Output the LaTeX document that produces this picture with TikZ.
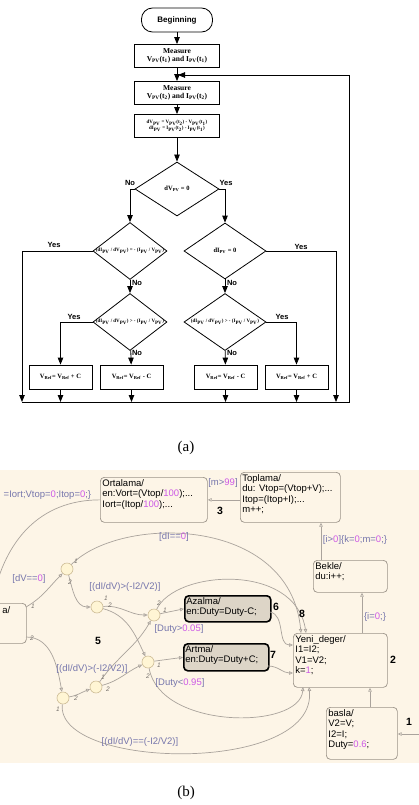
\documentclass[tikz,border=0pt]{standalone}
\usepackage{fontspec}
\setmainfont{Liberation Serif}
\setsansfont{Liberation Sans}
\usepackage{xcolor}
\usepackage{tikz}
\usetikzlibrary{positioning,arrows.meta,shapes.geometric}
\definecolor{panel}{RGB}{253,245,231}
\definecolor{stline}{RGB}{155,147,137}
\definecolor{trline}{RGB}{170,163,156}
\definecolor{lblblue}{RGB}{118,118,172}
\definecolor{numpink}{RGB}{205,90,230}
\definecolor{jfill}{RGB}{255,245,212}
\definecolor{jline}{RGB}{205,188,150}
\definecolor{actfill}{RGB}{221,213,199}
\newcommand{\nm}[1]{\textcolor{numpink}{#1}}
\newcommand{\lowtx}[1]{\textsubscript{#1}}

\begin{document}
\begin{tikzpicture}
		[x=1pt,y=-1pt,line width=0.8pt,
		>={Triangle[length=7pt,width=5.5pt]},
		term/.style={draw,rounded corners=11pt,minimum width=71pt,minimum height=24pt,font=\sffamily\bfseries\fontsize{8}{9}\selectfont},
		proc/.style={draw,minimum width=85pt,minimum height=23pt,inner sep=1pt,align=center,font=\bfseries\fontsize{7.5}{8.5}\selectfont},
		dec/.style={draw,diamond,inner sep=0pt,font=\bfseries\fontsize{5}{6}\selectfont},
		refbox/.style={draw,minimum width=63pt,minimum height=24pt,font=\bfseries\fontsize{6.5}{7.5}\selectfont},
		yn/.style={font=\sffamily\bfseries\fontsize{7.5}{8}\selectfont},
		state/.style={draw=stline,rounded corners=4pt,line width=0.7pt,anchor=north west,inner sep=0pt},
		act/.style={state,draw=black,line width=1.6pt,fill=actfill},
		sttext/.style={anchor=north west,align=left,inner sep=2pt,font=\sffamily\fontsize{9.5}{10.5}\selectfont},
		junc/.style={circle,draw=jline,fill=jfill,line width=0.6pt,minimum size=12pt,inner sep=0pt},
		tr/.style={draw=trline,line width=0.7pt,-{Triangle[open,length=4pt,width=3.5pt]}},
		cond/.style={font=\sffamily\fontsize{9.5}{10}\selectfont,text=lblblue},
		jlab/.style={font=\sffamily\itshape\fontsize{6.5}{6.5}\selectfont,text=trline!70!black},
		num/.style={font=\sffamily\bfseries\fontsize{10.5}{11}\selectfont}]
	\useasboundingbox (0,0) rectangle (419,805);
	\node[term] (beg) at (177,20) {Beginning};
	\node[proc] (m1) at (177,56) {Measure\\V\lowtx{PV}(t\lowtx{1}) and I\lowtx{PV}(t\lowtx{1})};
	\node[proc] (m2) at (177,93) {Measure\\V\lowtx{PV}(t\lowtx{2}) and I\lowtx{PV}(t\lowtx{2})};
	\node[proc,font=\bfseries\fontsize{5}{6}\selectfont] (dif) at (177,126) {dV\lowtx{PV} = V\lowtx{PV}(t\lowtx{2}) - V\lowtx{PV}(t\lowtx{1})\\dI\lowtx{PV} = I\lowtx{PV}(t\lowtx{2}) - I\lowtx{PV}(t\lowtx{1})};
	\node[dec,minimum width=84pt,minimum height=54pt,font=\bfseries\fontsize{6.5}{7}\selectfont] (d1) at (177,189) {\makebox[0pt]{dV\lowtx{PV} = 0}};
	\node[dec,minimum width=74pt,minimum height=57pt] (d2) at (130,251) {\makebox[0pt]{(dI\lowtx{PV} / dV\lowtx{PV}) = - (I\lowtx{PV} / V\lowtx{PV})}};
	\node[dec,minimum width=74pt,minimum height=57pt] (d3) at (130,322) {\makebox[0pt]{(dI\lowtx{PV} / dV\lowtx{PV}) > - (I\lowtx{PV} / V\lowtx{PV})}};
	\node[dec,minimum width=82pt,minimum height=56pt,font=\bfseries\fontsize{6.5}{7}\selectfont] (d4) at (225,251) {\makebox[0pt]{dI\lowtx{PV} = 0}};
	\node[dec,minimum width=82pt,minimum height=57pt] (d5) at (225,322) {\makebox[0pt]{(dI\lowtx{PV} / dV\lowtx{PV}) > - (I\lowtx{PV} / V\lowtx{PV})}};
	\node[refbox] (b1) at (60.5,377) {V\lowtx{Ref}= V\lowtx{Ref} + C};
	\node[refbox] (b2) at (131.5,377) {V\lowtx{Ref}= V\lowtx{Ref} - C};
	\node[refbox] (b3) at (225.5,377) {V\lowtx{Ref}= V\lowtx{Ref} - C};
	\node[refbox] (b4) at (296.5,377) {V\lowtx{Ref}= V\lowtx{Ref} + C};
	\coordinate (lb) at (22,402);
	\coordinate (rb) at (336,402);
	\coordinate (fr) at (349,402);
	\coordinate (fb) at (178,75);
	\node[yn] (noA) at (130,183) {No};
	\node[yn] (yesA) at (226,183) {Yes};
	\node[yn] (yesB) at (54,245) {Yes};
	\node[yn] (noB) at (137,283) {No};
	\node[yn] (yesC) at (74,317) {Yes};
	\node[yn] (noC) at (137,353) {No};
	\node[yn] (yesD) at (301,247) {Yes};
	\node[yn] (noD) at (232,283) {No};
	\node[yn] (yesE) at (282,317) {Yes};
	\node[yn] (noE) at (232,353) {No};
	\draw[->] (beg) -- (m1);
	\draw[->] (m1) -- (m2);
	\draw[->] (m2) -- (dif);
	\draw[->] (dif) -- (d1);
	\draw[->] (d1.west) -| (d2.north);
	\draw[->] (d1.east) -| (d4.north);
	\draw[->] (d2.west) -| (lb);
	\draw[->] (d2) -- (d3);
	\draw[->] (d3.west) -| (b1.north);
	\draw[->] (d3) -- (b2);
	\draw[->] (d4.east) -| (rb);
	\draw[->] (d4) -- (d5);
	\draw[->] (d5.east) -| (b4.north);
	\draw[->] (d5) -- (b3);
	\foreach \b in {b1,b2,b3,b4}
		\draw[->] (\b) -- (\b |- lb);
	\draw[->] (lb) -- (fr) -- (fr |- fb) -- (fb);
	\node[font=\fontsize{15}{15}\selectfont] (capA) at (186,448) {(a)};
	\node[font=\fontsize{15}{15}\selectfont] (capB) at (186,793) {(b)};
	\fill[panel] (0,470) rectangle (419,763);
	\begin{scope}
		\clip (0,470) rectangle (419,763);
		\node[state,minimum width=60pt,minimum height=40pt] (ls) at (-34,603) {};
		\node[sttext] (lsT) at (0,604) {a/};
		\node[state,minimum width=107pt,minimum height=45pt] (ort) at (100,477) {};
		\node[sttext] (ortT) at (ort.north west) {Ortalama/\\en:Vort=(Vtop/\nm{100});...\\Iort=(Itop/\nm{100});...};
		\node[state,minimum width=100pt,minimum height=50pt] (top) at (240,472) {};
		\node[sttext] (topT) at (top.north west) {Toplama/\\du: Vtop=(Vtop+V);...\\Itop=(Itop+I);...\\m++;};
		\node[state,minimum width=74pt,minimum height=32pt] (bk) at (313,560) {};
		\node[sttext] (bkT) at (bk.north west) {Bekle/\\du:i++;};
		\node[state,minimum width=94pt,minimum height=54pt] (yen) at (293,633) {};
		\node[sttext] (yenT) at (yen.north west) {Yeni\_deger/\\I1=I2;\\V1=V2;\\k=\nm{1};};
		\node[state,minimum width=71pt,minimum height=52pt] (bs) at (326,707) {};
		\node[sttext] (bsT) at (bs.north west) {basla/\\V2=V;\\I2=I;\\Duty=\nm{0.6};};
		\node[act,minimum width=86pt,minimum height=26pt] (az) at (184,595) {};
		\node[sttext] (azT) at (az.north west) {Azalma/\\en:Duty=Duty-C;};
		\node[act,minimum width=85pt,minimum height=27pt] (ar) at (183,643) {};
		\node[sttext] (arT) at (ar.north west) {Artma/\\en:Duty=Duty+C;};
		\node[junc] (j1) at (67,569) {};
		\node[junc] (j2) at (97,607) {};
		\node[junc] (j3) at (154,615) {};
		\node[junc] (j4) at (148,662) {};
		\node[junc] (j5) at (96,687) {};
		\node[junc] (j6) at (63,698) {};
		\coordinate (lsIn) at (-8,603);
		\coordinate (ls1) at (26,607);
		\coordinate (ls2) at (26,637);
		\coordinate (y8a) at (301,633);
		\coordinate (y8b) at (306,633);
		\coordinate (yb1) at (303,687);
		\coordinate (yb2) at (309,687);
		\coordinate (yw1) at (293,645);
		\coordinate (yw2) at (293,673);
		\coordinate (azOut) at (270,612);
		\coordinate (arOut) at (268,666);
		\coordinate (bkUp) at (321,560);
		\coordinate (yUp) at (362,633);
		\coordinate (bsUp) at (370,707);
		\coordinate (dflt) at (422,734);
		\draw[tr] (ort.west) .. controls (40,500) and (5,540) .. (lsIn);
		\draw[tr] (top.west |- ort.east) -- (ort.east);
		\draw[tr] (bkUp) -- (bkUp |- top.south);
		\draw[tr] (yUp) -- (yUp |- bk.south);
		\draw[tr] (bsUp) -- (bsUp |- yen.south);
		\draw[tr] (dflt) -- (dflt -| bs.east);
		\draw[tr] (ls1) to[out=30,in=225] (j1);
		\draw[tr] (ls2) to[out=0,in=100] (j6);
		\draw[tr] (j1) to[out=-75,in=180] (j2);
		\draw[tr] (j1) .. controls (120,515) and (290,515) .. (y8a);
		\draw[tr] (j2) to[out=5,in=180] (j3);
		\draw[tr] (j2) to[out=-15,in=115] (j4);
		\draw[tr] (j3) -- (az.west);
		\draw[tr] (j3) .. controls (175,570) and (295,562) .. (y8b);
		\draw[tr] (j4) -- (ar.west);
		\draw[tr] (j4) .. controls (160,730) and (300,730) .. (yb1);
		\draw[tr] (j5) to[out=55,in=240] (j3);
		\draw[tr] (j5) to[out=15,in=205] (j4);
		\draw[tr] (j6) to[out=10,in=200] (j5);
		\draw[tr] (j6) .. controls (55,770) and (318,775) .. (yb2);
		\draw[tr] (azOut) to[out=-10,in=180] (yw1);
		\draw[tr] (arOut) to[out=0,in=180] (yw2);
		\node[cond,anchor=west] (cOrt) at (0,495) {=Iort;Vtop=\nm{0};Itop=\nm{0};\}};
		\node[cond] (cDV) at (29,579) {[dV==\nm{0}]};
		\node[cond] (cDI) at (174,537) {[dI==\nm{0}]};
		\node[cond] (cGtA) at (125,587) {[(dI/dV)>(-I2/V2)]};
		\node[cond] (cGtB) at (92,669) {[(dI/dV)>(-I2/V2)]};
		\node[cond] (cEq) at (140,742) {[(dI/dV)==(-I2/V2)]};
		\node[cond] (cDown) at (179,629) {[Duty>\nm{0.05}]};
		\node[cond] (cUp) at (180,683) {[Duty<\nm{0.95}]};
		\node[cond] (cM) at (223,483) {[m>\nm{99}]};
		\node[cond] (cI) at (355,540) {[i>\nm{0}]\{k=\nm{0};m=\nm{0};\}};
		\node[cond] (cI0) at (375,617) {\{i=\nm{0};\}};
		\foreach \x/\y/\t [count=\i] in {33/606/1,32/638/2,76/561/1,70/582/2,106/598/1,110/605/2,159/603/2,165/610/1,159/665/1,148/676/2,103/677/1,108/689/2,76/698/2,58/709/1}
			\node[jlab] (jl\i) at (\x,\y) {\t};
		\node[num] (n1) at (409,722) {1};
		\node[num] (n2) at (393,660) {2};
		\node[num] (n3) at (220,511) {3};
		\node[num] (n5) at (98,641) {5};
		\node[num] (n6) at (276,607) {6};
		\node[num] (n7) at (273,655) {7};
		\node[num] (n8) at (302,614) {8};
	\end{scope}
\end{tikzpicture}
\end{document}
